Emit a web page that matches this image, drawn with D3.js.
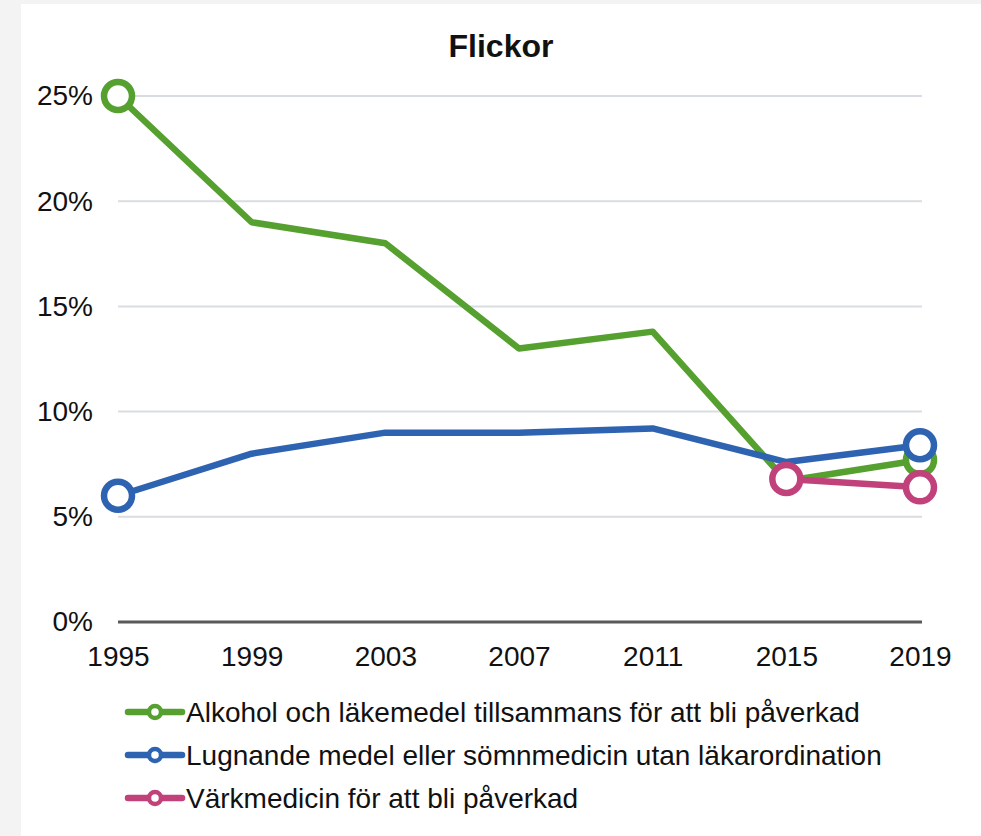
<!DOCTYPE html>
<html>
<head>
<meta charset="utf-8">
<script src="https://cdn.jsdelivr.net/npm/d3@7"></script>
<style>
  body { margin: 0; background: #f3f3f3; }
  text { font-family: "Liberation Sans", Arial, sans-serif; fill: #111; }
</style>
</head>
<body>
<div id="chart-area"></div>
<script>
// Data
const years = [1995, 1999, 2003, 2007, 2011, 2015, 2019]
const alkohol = [25, 19, 18, 13, 13.8, 6.7, 7.7]
const lugnande = [6, 8, 9, 9, 9.2, 7.6, 8.4]
const varkmedicin = [null, null, null, null, null, 6.8, 6.4]
const yTicks = [0, 5, 10, 15, 20, 25]

const series = [
  { name: 'Alkohol och läkemedel tillsammans för att bli påverkad', values: alkohol, color: '#56a030' },
  { name: 'Lugnande medel eller sömnmedicin utan läkarordination', values: lugnande, color: '#2e63b1' },
  { name: 'Värkmedicin för att bli påverkad', values: varkmedicin, color: '#c1427a' }
]

// Sizing
const W = 981, H = 836
const MARGIN = { LEFT: 118, RIGHT: 61, TOP: 96, BOTTOM: 214 }
const FONT = '"Liberation Sans", Arial, sans-serif'

const svg = d3.select('#chart-area').append('svg')
  .attr('width', W)
  .attr('height', H)
  .style('display', 'block')

// white panel
svg.append('rect')
  .attr('x', 21).attr('y', 4)
  .attr('width', W - 21).attr('height', H - 4)
  .attr('fill', '#fff')

const x = d3.scalePoint()
  .domain(years)
  .range([MARGIN.LEFT, W - MARGIN.RIGHT])

const y = d3.scaleLinear()
  .domain([0, 25])
  .range([H - MARGIN.BOTTOM, MARGIN.TOP])

// grid
svg.append('g')
  .selectAll('line')
  .data(yTicks.filter(d => d > 0))
  .enter().append('line')
  .attr('x1', MARGIN.LEFT).attr('x2', W - MARGIN.RIGHT + 2)
  .attr('y1', d => y(d)).attr('y2', d => y(d))
  .attr('stroke', '#d9dde1')
  .attr('stroke-width', 2)

// baseline
svg.append('line')
  .attr('x1', MARGIN.LEFT).attr('x2', W - MARGIN.RIGHT + 2)
  .attr('y1', y(0)).attr('y2', y(0))
  .attr('stroke', '#595959')
  .attr('stroke-width', 3)

// y labels
const yAxis = svg.append('g')
  .attr('transform', `translate(${MARGIN.LEFT - 25}, 0)`)
  .call(d3.axisLeft(y).tickValues(yTicks).tickFormat(d => d + '%').tickSize(0).tickPadding(0))
yAxis.select('.domain').remove()
yAxis.selectAll('text')
  .attr('font-size', '28px')
  .attr('fill', '#111')
  .attr('font-family', FONT)

// x labels
const xAxis = svg.append('g')
  .attr('transform', `translate(0, ${y(0) + 17})`)
  .call(d3.axisBottom(x).tickSize(0).tickPadding(0))
xAxis.select('.domain').remove()
xAxis.selectAll('text')
  .attr('font-size', '28px')
  .attr('fill', '#111')
  .attr('font-family', FONT)
  .attr('dy', '0.95em')

// title
svg.append('text')
  .attr('x', 501)
  .attr('y', 57)
  .attr('text-anchor', 'middle')
  .attr('font-size', '32px')
  .attr('font-weight', 'bold')
  .text('Flickor')

// lines
const line = d3.line()
  .defined(d => d.v !== null)
  .x(d => x(d.year))
  .y(d => y(d.v))

series.forEach(s => {
  const pts = years.map((yr, i) => ({ year: yr, v: s.values[i] }))
  const defined = pts.filter(d => d.v !== null)
  svg.append('path')
    .datum(pts)
    .attr('fill', 'none')
    .attr('stroke', s.color)
    .attr('stroke-width', 6.5)
    .attr('stroke-linejoin', 'round')
    .attr('d', line)

  // markers at first and last point
  svg.selectAll(null)
    .data([defined[0], defined[defined.length - 1]])
    .enter().append('circle')
    .attr('cx', d => x(d.year))
    .attr('cy', d => y(d.v))
    .attr('r', 14)
    .attr('fill', '#fff')
    .attr('stroke', s.color)
    .attr('stroke-width', 6.5)
})

// legend
const legend = svg.append('g')
  .attr('transform', 'translate(128, 712)')

series.forEach((s, i) => {
  const row = legend.append('g').attr('transform', `translate(0, ${i * 43})`)
  row.append('line')
    .attr('x1', 0).attr('x2', 54)
    .attr('stroke', s.color)
    .attr('stroke-width', 6.5)
    .attr('stroke-linecap', 'round')
  row.append('circle')
    .attr('cx', 27).attr('r', 6)
    .attr('fill', '#fff')
    .attr('stroke', s.color)
    .attr('stroke-width', 4.5)
  row.append('text')
    .attr('x', 58)
    .attr('dy', '0.36em')
    .attr('font-size', '28px')
    .text(s.name)
})
</script>
</body>
</html>
